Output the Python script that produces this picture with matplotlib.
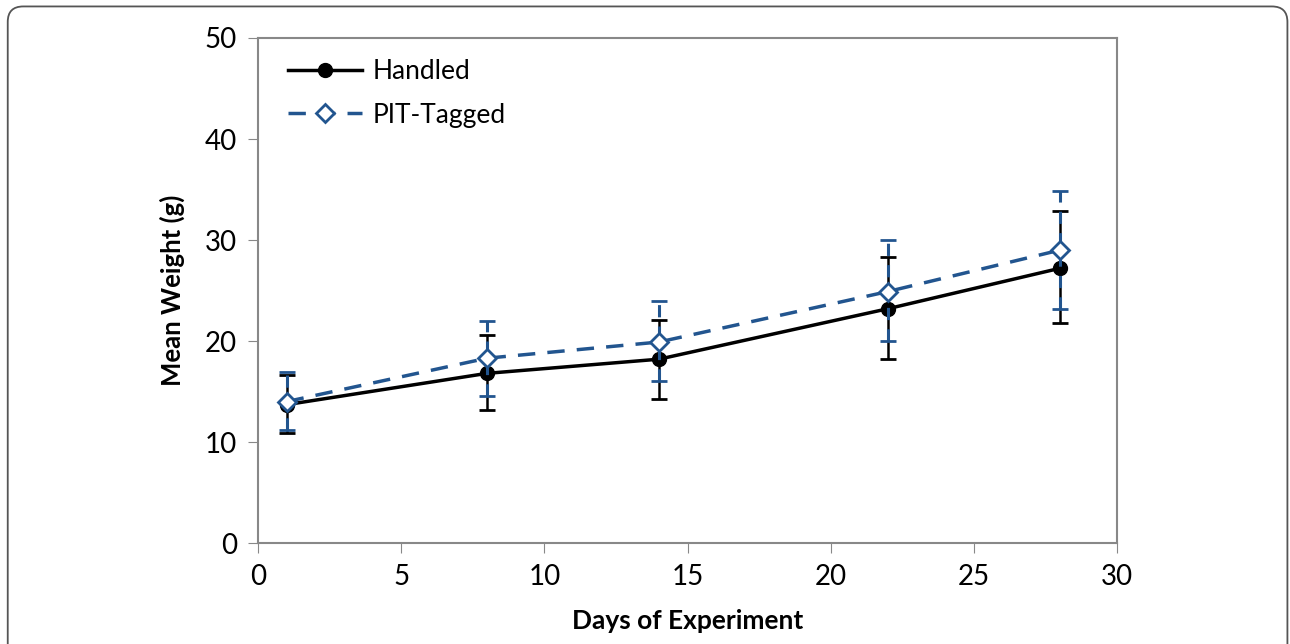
import matplotlib.pyplot as plt
from matplotlib.patches import FancyBboxPatch
from matplotlib.lines import Line2D

# data
days = [1, 8, 14, 22, 28]
handled = [13.7, 16.8, 18.2, 23.2, 27.2]
handled_lo = [10.9, 13.2, 14.3, 18.2, 21.8]
handled_hi = [16.6, 20.6, 22.1, 28.3, 32.9]
pit = [14.0, 18.3, 19.9, 24.9, 29.0]
pit_lo = [11.2, 14.6, 16.0, 20.0, 23.2]
pit_hi = [16.9, 22.0, 24.0, 30.0, 34.9]

plt.rcParams['font.family'] = ['Lato', 'DejaVu Sans']

fig = plt.figure(figsize=(12.9, 6.44), dpi=100)
ax = fig.add_axes([0.2, 0.1568, 0.666, 0.7842])

# rounded frame around the figure
frame = FancyBboxPatch((0.006, -0.1), 0.992, 1.09, boxstyle="round,pad=0,rounding_size=0.012",
                       transform=fig.transFigure, fill=False, edgecolor="#555555", lw=1.3,
                       mutation_aspect=2.0)
fig.patches.append(frame)

blue = "#22558f"
dash = (0, (5, 3.5))

ax.errorbar(days, handled,
            yerr=[[h - l for h, l in zip(handled, handled_lo)], [u - h for h, u in zip(handled, handled_hi)]],
            color="black", lw=2.5, marker="o", ms=10, capsize=6, capthick=2, elinewidth=1.8, zorder=3)

e2 = ax.errorbar(days, pit,
                 yerr=[[p - l for p, l in zip(pit, pit_lo)], [u - p for p, u in zip(pit, pit_hi)]],
                 color=blue, lw=2.5, ls=dash, marker="D", ms=9, mfc="white", mec=blue, mew=2,
                 capsize=6, capthick=3.5, elinewidth=2.2, zorder=4)
for bar in e2[2]:
    bar.set_linestyle((0, (4, 3)))

ax.set_xlim(0, 30)
ax.set_ylim(0, 50)
ax.set_xticks(range(0, 31, 5))
ax.set_yticks(range(0, 51, 10))
ax.tick_params(direction="out", length=7, color="#888888", labelsize=20, pad=8)
for s in ax.spines.values():
    s.set_color("#888888")
    s.set_linewidth(1.5)

ax.set_xlabel("Days of Experiment", fontsize=19, fontweight="bold", labelpad=14)
ax.set_ylabel("Mean Weight (g)", fontsize=18.5, fontweight="bold", labelpad=14)

handles = [Line2D([], [], color="black", lw=2.5, marker="o", ms=10),
           Line2D([], [], color=blue, lw=2.5, ls=dash, marker="D", ms=9, mfc="white", mec=blue, mew=2)]
ax.legend(handles, ["Handled", "PIT-Tagged"], loc="upper left", frameon=False, fontsize=19,
          handlelength=2.8, borderaxespad=0.4, labelspacing=0.7, handletextpad=0.4,
          bbox_to_anchor=(0.01, 1.0))

fig.savefig("out.png", dpi=100)
